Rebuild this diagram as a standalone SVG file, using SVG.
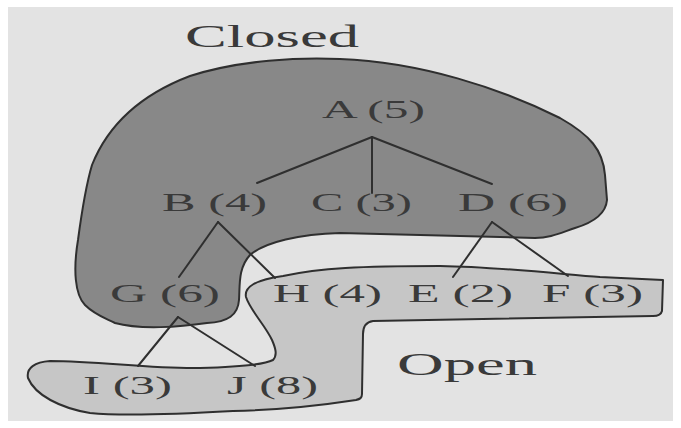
<svg xmlns="http://www.w3.org/2000/svg" width="681" height="428" viewBox="0 0 681 428">
<style>
.bg{fill:#e3e3e3}
.region{stroke:#2f2f2f;stroke-width:2;stroke-linejoin:round}
.closed{fill:#888888}
.open{fill:#c6c6c6}
.lbl{font-family:"Liberation Serif","Times New Roman",serif;font-size:25px;fill:#3a3a3a}
.title{font-family:"Liberation Serif","Times New Roman",serif;fill:#3a3a3a}
.edge{stroke:#2f2f2f;stroke-width:2;fill:none;stroke-linecap:round}
</style>
<rect x="0" y="0" width="681" height="428" fill="#ffffff"/>
<rect class="bg" x="8" y="7" width="665" height="414"/>
<g id="closed-set">
<path class="region closed" d="M 92,165 C 108,125 140,95 190,76 C 240,60 300,57 340,59 C 420,62 500,88 560,118 C 590,135 603,150 605,175 L 607,200 C 606,212 595,222 575,228 C 560,233 550,238 535,238 L 340,233 C 300,234 265,242 250,255 C 238,268 240,285 239,300 C 238,315 228,322 207,323 C 180,327 140,330 115,323 C 105,318 95,315 85,305 C 75,295 73,270 78,240 C 82,210 86,185 92,165 Z"/>
<text class="title" x="185" y="47" font-size="32" textLength="174" lengthAdjust="spacingAndGlyphs">Closed</text>
</g>
<g id="open-set">
<path class="region open" d="M 283,276 C 320,268 360,266 440,266 C 500,267 560,274 600,277 L 663,280 L 662,311 C 661,315 657,316 653,316 L 373,321 C 366,322 363,326 363,334 L 362,394 C 362,398 360,399 356,400 C 330,404 280,410 233,411 C 180,414 120,416 90,413 C 60,408 35,395 28,378 C 26,368 35,362 50,361 C 100,361 150,369 200,368 C 240,367 265,364 273,360 C 278,355 275,347 272,340 C 265,325 250,310 246,297 C 244,287 255,280 283,276 Z"/>
<text class="title" x="397" y="375" font-size="32" textLength="140" lengthAdjust="spacingAndGlyphs">Open</text>
</g>
<g id="connectors">
<line class="edge" x1="372" y1="137" x2="257" y2="183"/>
<line class="edge" x1="372" y1="137" x2="372" y2="193"/>
<line class="edge" x1="372" y1="137" x2="492" y2="184"/>
<line class="edge" x1="218" y1="222" x2="179" y2="277"/>
<line class="edge" x1="218" y1="222" x2="275" y2="278"/>
<line class="edge" x1="492" y1="222" x2="453" y2="277"/>
<line class="edge" x1="492" y1="222" x2="568" y2="276"/>
<line class="edge" x1="178" y1="317" x2="138" y2="366"/>
<line class="edge" x1="178" y1="317" x2="255" y2="366"/>
</g>
<g id="node-A"><text class="lbl" x="322" y="118" textLength="103" lengthAdjust="spacingAndGlyphs">A (5)</text></g>
<g id="node-B"><text class="lbl" x="162" y="211" textLength="105" lengthAdjust="spacingAndGlyphs">B (4)</text></g>
<g id="node-C"><text class="lbl" x="311" y="211" textLength="101" lengthAdjust="spacingAndGlyphs">C (3)</text></g>
<g id="node-D"><text class="lbl" x="458" y="211" textLength="110" lengthAdjust="spacingAndGlyphs">D (6)</text></g>
<g id="node-G"><text class="lbl" x="110" y="302" textLength="110" lengthAdjust="spacingAndGlyphs">G (6)</text></g>
<g id="node-H"><text class="lbl" x="273" y="302" textLength="109" lengthAdjust="spacingAndGlyphs">H (4)</text></g>
<g id="node-E"><text class="lbl" x="408" y="302" textLength="105" lengthAdjust="spacingAndGlyphs">E (2)</text></g>
<g id="node-F"><text class="lbl" x="542" y="302" textLength="101" lengthAdjust="spacingAndGlyphs">F (3)</text></g>
<g id="node-I"><text class="lbl" x="83" y="394" textLength="89" lengthAdjust="spacingAndGlyphs">I (3)</text></g>
<g id="node-J"><text class="lbl" x="227" y="394" textLength="91" lengthAdjust="spacingAndGlyphs">J (8)</text></g>
</svg>
